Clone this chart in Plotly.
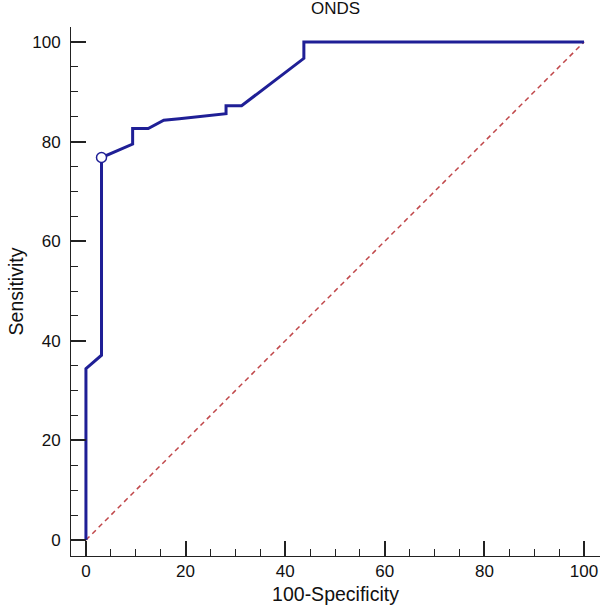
import plotly.graph_objects as go

# ROC curve data (100-Specificity, Sensitivity)
fpr = [0, 0, 3.125, 3.125, 9.375, 9.375, 12.5, 15.625, 18.75, 21.875, 25.0, 28.125, 28.125, 31.25, 43.75, 43.75, 100]
tpr = [0, 34.4, 37.1, 76.8, 79.5, 82.6, 82.6, 84.3, 84.6, 84.9, 85.2, 85.6, 87.2, 87.2, 96.7, 100, 100]
cut_x = [3.125]
cut_y = [76.8]
ref_x = [0, 100]
ref_y = [0, 100]
tick_vals = [0, 20, 40, 60, 80, 100]

fig = go.Figure()
fig.add_trace(go.Scatter(x=ref_x, y=ref_y, mode="lines",
                         line=dict(color="#c0474a", width=1.5, dash="5px,4px"),
                         hoverinfo="skip"))
fig.add_trace(go.Scatter(x=fpr, y=tpr, mode="lines",
                         line=dict(color="#1f1f96", width=3)))
fig.add_trace(go.Scatter(x=cut_x, y=cut_y, mode="markers",
                         marker=dict(symbol="circle", size=10, color="white",
                                     line=dict(color="#1f1f96", width=1.5))))

fam = "Liberation Sans, Arial, sans-serif"
tickfont = dict(family=fam, size=17, color="#111")
titlefont = dict(family=fam, size=19.5, color="#111")
axis_common = dict(
    showgrid=False, zeroline=False, showline=True, linecolor="#222", linewidth=1,
    ticks="inside", ticklen=15, tickwidth=1.5, tickcolor="#222",
    tickvals=tick_vals, tickfont=tickfont,
    minor=dict(ticks="inside", ticklen=7, tickwidth=1, tickcolor="#222", dtick=5, showgrid=False),
)
fig.update_layout(
    width=603, height=610,
    margin=dict(l=71, r=3, t=27, b=54),
    paper_bgcolor="white", plot_bgcolor="white",
    showlegend=False,
    title=dict(text="ONDS", x=0.5, xref="paper", xanchor="center", y=0.996, yanchor="top",
               font=dict(family=fam, size=17, color="#111")),
)
fig.update_xaxes(range=[-3.0, 103.2], ticklabelstandoff=0,
                 title=dict(text="100-Specificity", font=titlefont, standoff=6), **axis_common)
fig.update_yaxes(range=[-3.2, 103.0], ticklabelstandoff=6,
                 title=dict(text="Sensitivity", font=titlefont, standoff=3), **axis_common)

fig.write_html("out.html")
